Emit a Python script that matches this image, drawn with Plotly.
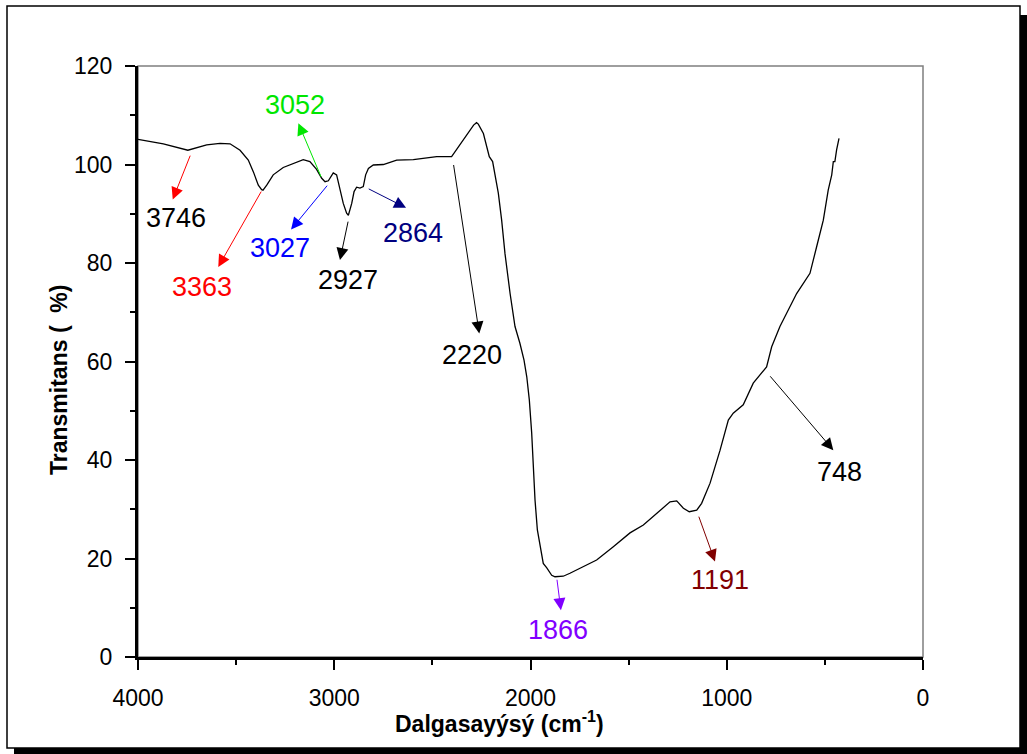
import plotly.graph_objects as go

# ---- data ----
wavenumber = [4000, 3871, 3746, 3650, 3582, 3531, 3480, 3438, 3412, 3387, 3370, 3363, 3344,
              3311, 3260, 3209, 3158, 3124, 3090, 3064, 3047, 3030, 3022, 3005, 2988, 2971,
              2954, 2937, 2928, 2911, 2899, 2886, 2869, 2852, 2840, 2826, 2801, 2750, 2682,
              2597, 2512, 2478, 2402, 2359, 2317, 2290, 2275, 2266, 2240, 2223, 2210, 2193, 2181,
              2164, 2147, 2130, 2104, 2079, 2054, 2033, 2019, 2006, 1994, 1986, 1977, 1965,
              1952, 1935, 1917, 1892, 1875, 1866, 1833, 1799, 1731, 1663, 1578, 1493, 1425,
              1357, 1289, 1255, 1221, 1191, 1153, 1128, 1085, 1034, 992, 967, 916, 865, 831,
              797, 771, 729, 644, 576, 542, 508, 483, 465, 457, 449, 440, 428]
transmittance = [105.1, 104.2, 102.9, 104.0, 104.3, 104.2, 102.9, 100.9, 98.5, 95.8, 94.9, 94.8,
                 95.8, 97.9, 99.4, 100.2, 101.0, 100.6, 99.0, 97.2, 96.5, 96.7, 97.2, 98.3, 97.9,
                 94.8, 92.1, 90.1, 89.7, 92.1, 94.5, 95.4, 95.2, 95.5, 97.9, 99.2, 99.9, 100.0,
                 100.9, 101.0, 101.5, 101.6, 101.6, 104.0, 106.3, 108.0, 108.5, 108.2, 106.3, 103.6,
                 101.6, 100.6, 98.2, 94.2, 88.7, 81.9, 73.8, 67.1, 63.7, 60.3, 56.9, 52.2, 45.5,
                 38.6, 31.9, 25.8, 23.1, 19.0, 18.1, 16.6, 16.3, 16.3, 16.4, 17.0, 18.3, 19.7,
                 22.4, 25.2, 26.8, 29.2, 31.5, 31.7, 30.2, 29.5, 29.8, 31.2, 35.3, 42.0, 48.1,
                 49.5, 51.2, 55.6, 57.3, 58.9, 63.0, 67.1, 73.8, 77.9, 83.3, 88.7, 94.8, 97.9,
                 100.6, 100.6, 103.0, 105.3]

x_ticks = [4000, 3000, 2000, 1000, 0]
y_ticks = [0, 20, 40, 60, 80, 100, 120]

# peak labels: text, text position, arrow tail (on curve), arrow head, arrow colour, text colour
peak_labels = ["3746", "3363", "3052", "3027", "2927", "2864", "2220", "1866", "1191", "748"]
label_x = [3804, 3675, 3200, 3276, 2928, 2600, 2300, 1858, 1034, 423]
label_y = [89.1, 75.1, 112.1, 83.0, 76.5, 86.0, 61.3, 5.5, 15.6, 37.6]
tail_x = [3731, 3368, 3064, 3030, 2928, 2832, 2393, 1866, 1145, 785]
tail_y = [102.1, 94.8, 97.2, 96.0, 88.7, 95.2, 100.2, 16.0, 28.8, 57.3]
head_x = [3823, 3591, 3183, 3220, 2971, 2634, 2261, 1845, 1060, 457]
head_y = [92.9, 79.2, 108.4, 86.8, 80.6, 91.2, 65.7, 9.5, 19.4, 42.0]
arrow_colors = ["#FF0000", "#FF0000", "#00E600", "#0000FF", "#000000", "#000080",
                "#000000", "#8000FF", "#800000", "#000000"]
text_colors = ["#000000", "#FF0000", "#00E600", "#0000FF", "#000000", "#000080",
               "#000000", "#8000FF", "#800000", "#000000"]

x_title = "<b>Dalgasayýsý (cm<sup>-1</sup>)</b>"
y_title = "<b>Transmitans (&nbsp; %)</b>"

FONT = "Liberation Sans, Arial, sans-serif"
W, H = 1027, 754
L, R, T, B = 138, 923, 66, 657


def px(xpix):
    return (xpix - L) / (R - L)


def py(ypix):
    return (B - ypix) / (B - T)


fig = go.Figure()
fig.add_trace(go.Scatter(x=wavenumber, y=transmittance, mode="lines",
                         line=dict(color="black", width=1.3), showlegend=False,
                         hoverinfo="skip"))

annotations = []
for i, lab in enumerate(peak_labels):
    annotations.append(dict(x=head_x[i], y=head_y[i], ax=tail_x[i], ay=tail_y[i],
                            xref="x", yref="y", axref="x", ayref="y", text="",
                            showarrow=True, arrowhead=2, arrowsize=2.4, arrowwidth=1,
                            arrowcolor=arrow_colors[i], standoff=0, startstandoff=0))
    annotations.append(dict(x=label_x[i], y=label_y[i], xref="x", yref="y", text=lab,
                            showarrow=False, xanchor="center", yanchor="middle",
                            font=dict(family=FONT, size=27, color=text_colors[i])))

# axis titles (placed as in the reference, slightly off-centre)
annotations.append(dict(x=px(499), y=py(722), xref="paper", yref="paper", text=x_title,
                        showarrow=False, xanchor="center", yanchor="middle",
                        font=dict(family=FONT, size=23, color="black")))
annotations.append(dict(x=px(59), y=py(380), xref="paper", yref="paper", text=y_title,
                        showarrow=False, xanchor="center", yanchor="middle", textangle=-90,
                        font=dict(family=FONT, size=23, color="black")))

shapes = [
    # shadow
    dict(type="rect", xref="paper", yref="paper", x0=px(14), x1=px(1027), y0=py(754), y1=py(15),
         fillcolor="black", line=dict(width=0), layer="below"),
    # white page with border
    dict(type="rect", xref="paper", yref="paper", x0=px(7), x1=px(1020), y0=py(748), y1=py(6),
         fillcolor="white", line=dict(color="black", width=1.5), layer="below"),
    # thin grey frame of the plot area (top / right)
    dict(type="rect", xref="paper", yref="paper", x0=0, x1=1, y0=0, y1=1,
         line=dict(color="#7f7f7f", width=1.5), layer="below"),
]

fig.update_layout(
    width=W, height=H,
    margin=dict(l=L, r=W - R, t=T, b=H - B, pad=0),
    paper_bgcolor="white", plot_bgcolor="white",
    font=dict(family=FONT, color="black"),
    annotations=annotations, shapes=shapes,
    xaxis=dict(range=[4000, 0], tickvals=x_ticks, ticktext=[str(v) for v in x_ticks],
               showgrid=False, zeroline=False, showline=True, linecolor="black", linewidth=3,
               ticks="outside", ticklen=10, tickwidth=2, tickcolor="black",
               minor=dict(dtick=500, ticks="outside", ticklen=5, tickwidth=2, tickcolor="black"),
               tickfont=dict(family=FONT, size=23, color="black"), ticklabelstandoff=8),
    yaxis=dict(range=[0, 120], tickvals=y_ticks, ticktext=[str(v) for v in y_ticks],
               showgrid=False, zeroline=False, showline=True, linecolor="black", linewidth=3,
               ticks="outside", ticklen=10, tickwidth=2, tickcolor="black",
               minor=dict(dtick=10, ticks="outside", ticklen=5, tickwidth=2, tickcolor="black"),
               tickfont=dict(family=FONT, size=23, color="black"), ticklabelstandoff=8),
)

fig.write_html("out.html")
